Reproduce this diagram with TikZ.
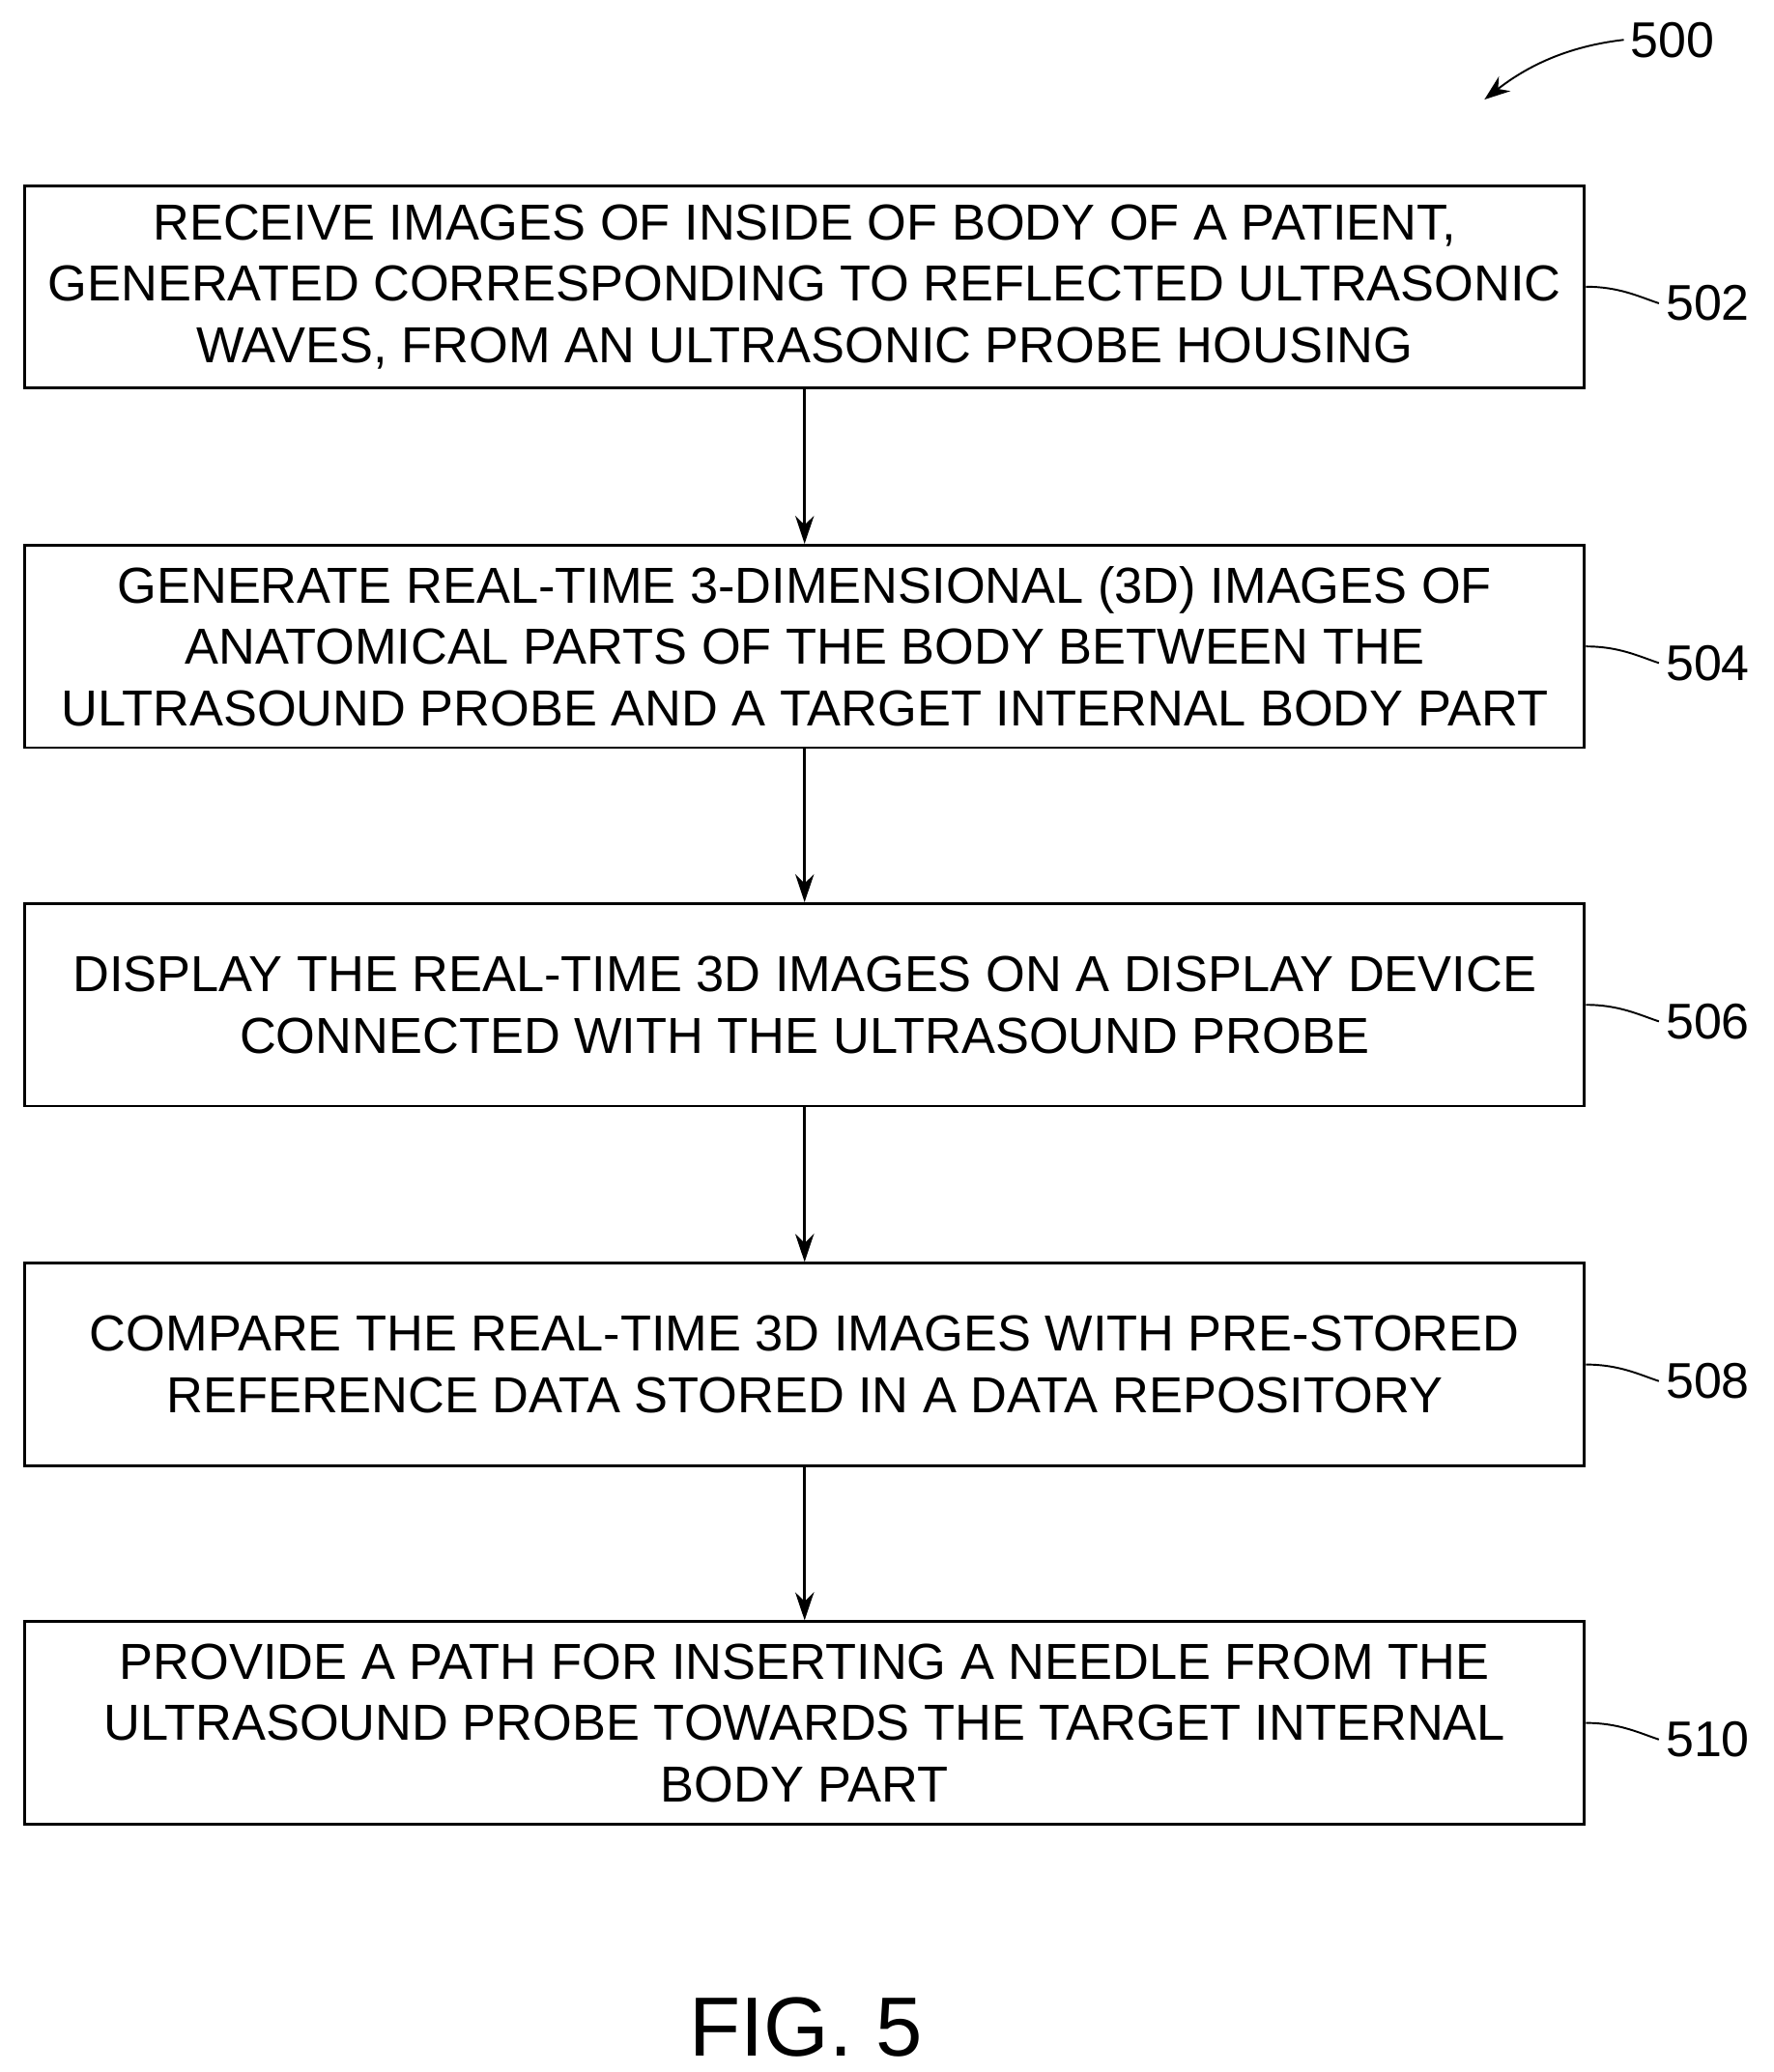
\documentclass[tikz,border=0pt]{standalone}
\usepackage{fontspec}
\setmainfont{Liberation Sans}
\usetikzlibrary{arrows.meta}
\begin{document}
\begin{tikzpicture}[x=0.02cm,y=-0.02cm,
  box/.style={draw,line width=1.2pt,minimum width=23.5cm,minimum height=3.05cm,align=center,inner sep=0pt,
    font=\fontsize{21.7}{26.3}\selectfont},
  lbl/.style={font=\fontsize{21.5}{26}\selectfont,anchor=west,inner sep=0pt},
  arr/.style={-{Stealth[length=12pt,width=8pt]},line width=1.2pt},
  lead/.style={line width=0.8pt}]
\useasboundingbox (0,0) rectangle (1336,1561);
\node[box] (b1) at (606,216) {RECEIVE IMAGES OF INSIDE OF BODY OF A PATIENT,\\GENERATED CORRESPONDING TO REFLECTED ULTRASONIC\\WAVES, FROM AN ULTRASONIC PROBE HOUSING};
\node[box] (b2) at (606,487) {GENERATE REAL-TIME 3-DIMENSIONAL (3D) IMAGES OF\\ANATOMICAL PARTS OF THE BODY BETWEEN THE\\ULTRASOUND PROBE AND A TARGET INTERNAL BODY PART};
\node[box] (b3) at (606,757) {DISPLAY THE REAL-TIME 3D IMAGES ON A DISPLAY DEVICE\\CONNECTED WITH THE ULTRASOUND PROBE};
\node[box] (b4) at (606,1028) {COMPARE THE REAL-TIME 3D IMAGES WITH PRE-STORED\\REFERENCE DATA STORED IN A DATA REPOSITORY};
\node[box] (b5) at (606,1298) {PROVIDE A PATH FOR INSERTING A NEEDLE FROM THE\\ULTRASOUND PROBE TOWARDS THE TARGET INTERNAL\\BODY PART};
\draw[arr] (b1) -- (b2);
\draw[arr] (b2) -- (b3);
\draw[arr] (b3) -- (b4);
\draw[arr] (b4) -- (b5);
\foreach \b/\t in {b1/502,b2/504,b3/506,b4/508,b5/510}{
  \node[lbl] (l\t) at ([xshift=1.2cm,yshift=-0.25cm]\b.east) {\t};
  \draw[lead] (\b.east) .. controls +(0.5cm,0) and +(-0.3cm,0.1cm) .. ([xshift=-0.1cm]l\t.west);
}
\node[lbl] (l500) at (1228,30) {500};
\coordinate (a500) at (1118,75);
\draw[-{Stealth[length=11pt,width=8pt]},line width=0.8pt] ([xshift=-0.1cm]l500.west) .. controls (1180,35) and (1150,50) .. (a500);
\node[font=\fontsize{36}{40}\selectfont] (fig) at (607,1527) {FIG. 5};
\end{tikzpicture}
\end{document}
